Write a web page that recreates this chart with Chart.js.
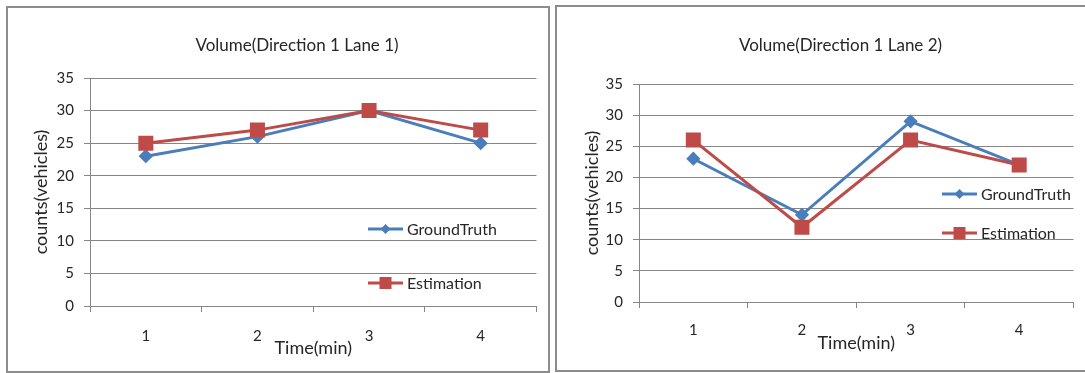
<!DOCTYPE html>
<html>
<head>
<meta charset="utf-8">
<script src="https://cdn.jsdelivr.net/npm/chart.js@4.4.1/dist/chart.umd.min.js"></script>
<style>
  body { margin: 0; background: #fff; width: 1085px; height: 373px; overflow: hidden; position: relative; }
  .box { position: absolute; border: 2px solid #8c8c8c; background: #fff; }
  #box1 { left: 6px; top: 6px; width: 540px; height: 363px; }
  #box2 { left: 555px; top: 5px; width: 528px; height: 363px; }
</style>
</head>
<body>
<div class="box" id="box1"><canvas id="lane1Chart"></canvas></div>
<div class="box" id="box2"><canvas id="lane2Chart"></canvas></div>
<script>
// DATA
const timeLabels = ['1', '2', '3', '4'];
const lane1GroundTruth = [23, 26, 30, 25];
const lane1Estimation = [25, 27, 30, 27];
const lane2GroundTruth = [23, 14, 29, 22];
const lane2Estimation = [26, 12, 26, 22];
const yMin = 0;
const yMax = 35;
const yStep = 5;

const blue = '#4A7EBB';
const red = '#BE4B48';
const gridGray = '#868686';
const textColor = '#262626';
const fontFamily = 'Lato, "Open Sans", sans-serif';

Chart.defaults.font.family = fontFamily;
Chart.defaults.color = textColor;

// legend drawn inside the plot area, like the Excel one
const insideLegend = {
    id: 'insideLegend',
    afterDatasetsDraw(chart, args, opts) {
        const ctx = chart.ctx;
        const area = chart.chartArea;
        ctx.save();
        ctx.font = '16px ' + fontFamily;
        ctx.textBaseline = 'middle';
        chart.data.datasets.forEach((ds, i) => {
            const x = area.left + opts.left;
            const y = area.top + opts.top + i * opts.gap;
            ctx.strokeStyle = ds.borderColor;
            ctx.lineWidth = 3;
            ctx.beginPath();
            ctx.moveTo(x, y);
            ctx.lineTo(x + 35, y);
            ctx.stroke();
            ctx.fillStyle = ds.borderColor;
            const mx = x + 17.5;
            if (ds.pointStyle === 'rect') {
                ctx.fillRect(mx - 6, y - 6, 12, 12);
            } else {
                ctx.beginPath();
                ctx.moveTo(mx, y - 5);
                ctx.lineTo(mx + 5, y);
                ctx.lineTo(mx, y + 5);
                ctx.lineTo(mx - 5, y);
                ctx.closePath();
                ctx.fill();
            }
            ctx.fillStyle = textColor;
            ctx.fillText(ds.label, x + 39, y + 1);
        });
        ctx.restore();
    }
};

// lay.padLeft nudges the (full width) title to the right; the y scale
// shrinks by the same amount so the plot area stays where it was
function makeChart(canvasId, titleText, gt, est, lay) {
    return new Chart(document.getElementById(canvasId), {
        type: 'line',
        data: {
            labels: timeLabels,
            datasets: [
                {
                    label: 'GroundTruth',
                    data: gt,
                    borderColor: blue,
                    backgroundColor: blue,
                    pointBackgroundColor: blue,
                    pointBorderColor: blue,
                    pointStyle: 'rectRot',
                    pointRadius: 5,
                    borderWidth: 3,
                    tension: 0,
                    order: 2
                },
                {
                    label: 'Estimation',
                    data: est,
                    borderColor: red,
                    backgroundColor: red,
                    pointBackgroundColor: red,
                    pointBorderColor: red,
                    pointStyle: 'rect',
                    pointRadius: 8.5,
                    borderWidth: 3,
                    tension: 0,
                    order: 1
                }
            ]
        },
        options: {
            responsive: true,
            maintainAspectRatio: false,
            animation: false,
            layout: { padding: { left: lay.padLeft, right: lay.padRight, top: 0, bottom: 0 } },
            plugins: {
                legend: { display: false },
                tooltip: { enabled: false },
                title: {
                    display: true,
                    text: titleText,
                    color: textColor,
                    font: { size: 17, weight: 'normal' },
                    padding: { top: lay.titleTop, bottom: lay.titleBottom }
                },
                insideLegend: lay.legend
            },
            scales: {
                x: {
                    offset: true,
                    grid: { offset: true, drawOnChartArea: false, color: gridGray, tickLength: 6 },
                    border: { color: gridGray },
                    ticks: { padding: lay.xTickPad, color: textColor, font: { size: 15 } },
                    title: {
                        display: true,
                        text: 'Time(min)',
                        color: textColor,
                        font: { size: 18 },
                        padding: { top: 0, bottom: lay.xTitleBottom }
                    },
                    afterFit(scale) { scale.height = lay.xHeight; }
                },
                y: {
                    min: yMin,
                    max: yMax,
                    ticks: { stepSize: yStep, padding: 10, color: textColor, font: { size: 15 } },
                    grid: { color: gridGray, tickLength: 6 },
                    border: { color: gridGray },
                    title: {
                        display: true,
                        text: 'counts(vehicles)',
                        color: textColor,
                        font: { size: 18 },
                        padding: { top: lay.yTitleTop - lay.padLeft, bottom: 0 }
                    },
                    afterFit(scale) { scale.width = 82 - lay.padLeft; }
                }
            }
        },
        plugins: [insideLegend]
    });
}

makeChart('lane1Chart', 'Volume(Direction 1 Lane 1)', lane1GroundTruth, lane1Estimation, {
    padLeft: 44, padRight: 6, titleTop: 27, titleBottom: 22.6, xHeight: 65, xTickPad: 15, xTitleBottom: 12,
    yTitleTop: 22, legend: { left: 278, top: 151, gap: 54 }
});

makeChart('lane2Chart', 'Volume(Direction 1 Lane 2)', lane2GroundTruth, lane2Estimation, {
    padLeft: 46, padRight: 7, titleTop: 28, titleBottom: 28.6, xHeight: 68, xTickPad: 13, xTitleBottom: 16,
    yTitleTop: 24, legend: { left: 303, top: 110, gap: 39 }
});
</script>
</body>
</html>
